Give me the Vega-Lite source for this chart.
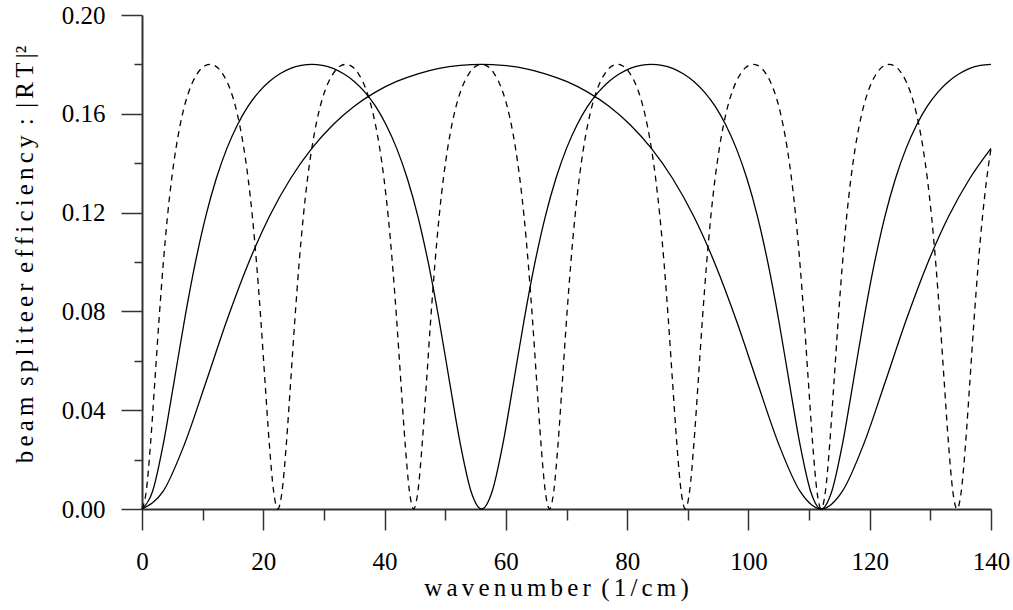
{
  "$schema": "https://vega.github.io/schema/vega-lite/v6.json",
  "width": 849,
  "height": 494,
  "autosize": "none",
  "padding": {"left": 142, "top": 15, "right": 22, "bottom": 101},
  "background": "white",
  "config": {
    "view": {"stroke": null},
    "axis": {
      "grid": false,
      "labelFont": "Liberation Serif",
      "labelFontSize": 25,
      "labelColor": "black",
      "titleFont": "Liberation Serif",
      "titleFontSize": 25,
      "titleFontWeight": "normal",
      "titleColor": "black",
      "domainColor": "#333",
      "domainWidth": 2,
      "tickColor": "#333",
      "tickWidth": 1.5,
      "labelFlush": false,
      "labelOverlap": false
    }
  },
  "datasets": {
    "wide": [
      {"x":0,"y":0},{"x":3.5,"y":0.0072},{"x":7,"y":0.0262},{"x":10.5,"y":0.051},{"x":14,"y":0.0764},{"x":17.5,"y":0.0992},{"x":21,"y":0.1184},{"x":24.5,"y":0.1338},{"x":28,"y":0.146},{"x":31.5,"y":0.1556},{"x":35,"y":0.1631},{"x":38.5,"y":0.1688},{"x":42,"y":0.1731},{"x":45.5,"y":0.1762},{"x":49,"y":0.1784},{"x":52.5,"y":0.1796},{"x":56,"y":0.18},{"x":59.5,"y":0.1796},{"x":63,"y":0.1784},{"x":66.5,"y":0.1762},{"x":70,"y":0.1731},{"x":73.5,"y":0.1688},{"x":77,"y":0.1631},{"x":80.5,"y":0.1556},{"x":84,"y":0.146},{"x":87.5,"y":0.1338},{"x":91,"y":0.1184},{"x":94.5,"y":0.0992},{"x":98,"y":0.0764},{"x":101.5,"y":0.051},{"x":105,"y":0.0262},{"x":108.5,"y":0.0072},
      {"x":112,"y":0},{"x":115.5,"y":0.0072},{"x":119,"y":0.0262},{"x":122.5,"y":0.051},{"x":126,"y":0.0764},{"x":129.5,"y":0.0992},{"x":133,"y":0.1184},{"x":136.5,"y":0.1338},{"x":140,"y":0.146}
    ],
    "mid": [
      {"x":0,"y":0},{"x":1.75,"y":0.0072},{"x":3.5,"y":0.0262},{"x":5.25,"y":0.051},{"x":7,"y":0.0764},{"x":8.75,"y":0.0992},{"x":10.5,"y":0.1184},{"x":12.25,"y":0.1338},{"x":14,"y":0.146},{"x":15.75,"y":0.1556},{"x":17.5,"y":0.1631},{"x":19.25,"y":0.1688},{"x":21,"y":0.1731},{"x":22.75,"y":0.1762},{"x":24.5,"y":0.1784},{"x":26.25,"y":0.1796},{"x":28,"y":0.18},{"x":29.75,"y":0.1796},{"x":31.5,"y":0.1784},{"x":33.25,"y":0.1762},{"x":35,"y":0.1731},{"x":36.75,"y":0.1688},{"x":38.5,"y":0.1631},{"x":40.25,"y":0.1556},{"x":42,"y":0.146},{"x":43.75,"y":0.1338},{"x":45.5,"y":0.1184},{"x":47.25,"y":0.0992},{"x":49,"y":0.0764},{"x":50.75,"y":0.051},{"x":52.5,"y":0.0262},{"x":54.25,"y":0.0072},
      {"x":56,"y":0},{"x":57.75,"y":0.0072},{"x":59.5,"y":0.0262},{"x":61.25,"y":0.051},{"x":63,"y":0.0764},{"x":64.75,"y":0.0992},{"x":66.5,"y":0.1184},{"x":68.25,"y":0.1338},{"x":70,"y":0.146},{"x":71.75,"y":0.1556},{"x":73.5,"y":0.1631},{"x":75.25,"y":0.1688},{"x":77,"y":0.1731},{"x":78.75,"y":0.1762},{"x":80.5,"y":0.1784},{"x":82.25,"y":0.1796},{"x":84,"y":0.18},{"x":85.75,"y":0.1796},{"x":87.5,"y":0.1784},{"x":89.25,"y":0.1762},{"x":91,"y":0.1731},{"x":92.75,"y":0.1688},{"x":94.5,"y":0.1631},{"x":96.25,"y":0.1556},{"x":98,"y":0.146},{"x":99.75,"y":0.1338},{"x":101.5,"y":0.1184},{"x":103.25,"y":0.0992},{"x":105,"y":0.0764},{"x":106.75,"y":0.051},{"x":108.5,"y":0.0262},{"x":110.25,"y":0.0072},
      {"x":112,"y":0},{"x":113.75,"y":0.0072},{"x":115.5,"y":0.0262},{"x":117.25,"y":0.051},{"x":119,"y":0.0764},{"x":120.75,"y":0.0992},{"x":122.5,"y":0.1184},{"x":124.25,"y":0.1338},{"x":126,"y":0.146},{"x":127.75,"y":0.1556},{"x":129.5,"y":0.1631},{"x":131.25,"y":0.1688},{"x":133,"y":0.1731},{"x":134.75,"y":0.1762},{"x":136.5,"y":0.1784},{"x":138.25,"y":0.1796},{"x":140,"y":0.18}
    ],
    "dash": [
      {"x":0,"y":0},{"x":0.7,"y":0.0072},{"x":1.4,"y":0.0262},{"x":2.1,"y":0.051},{"x":2.8,"y":0.0764},{"x":3.5,"y":0.0992},{"x":4.2,"y":0.1184},{"x":4.9,"y":0.1338},{"x":5.6,"y":0.146},{"x":6.3,"y":0.1556},{"x":7,"y":0.1631},{"x":7.7,"y":0.1688},{"x":8.4,"y":0.1731},{"x":9.1,"y":0.1762},{"x":9.8,"y":0.1784},{"x":10.5,"y":0.1796},{"x":11.2,"y":0.18},{"x":11.9,"y":0.1796},{"x":12.6,"y":0.1784},{"x":13.3,"y":0.1762},{"x":14,"y":0.1731},{"x":14.7,"y":0.1688},{"x":15.4,"y":0.1631},{"x":16.1,"y":0.1556},{"x":16.8,"y":0.146},{"x":17.5,"y":0.1338},{"x":18.2,"y":0.1184},{"x":18.9,"y":0.0992},{"x":19.6,"y":0.0764},{"x":20.3,"y":0.051},{"x":21,"y":0.0262},{"x":21.7,"y":0.0072},
      {"x":22.4,"y":0},{"x":23.1,"y":0.0072},{"x":23.8,"y":0.0262},{"x":24.5,"y":0.051},{"x":25.2,"y":0.0764},{"x":25.9,"y":0.0992},{"x":26.6,"y":0.1184},{"x":27.3,"y":0.1338},{"x":28,"y":0.146},{"x":28.7,"y":0.1556},{"x":29.4,"y":0.1631},{"x":30.1,"y":0.1688},{"x":30.8,"y":0.1731},{"x":31.5,"y":0.1762},{"x":32.2,"y":0.1784},{"x":32.9,"y":0.1796},{"x":33.6,"y":0.18},{"x":34.3,"y":0.1796},{"x":35,"y":0.1784},{"x":35.7,"y":0.1762},{"x":36.4,"y":0.1731},{"x":37.1,"y":0.1688},{"x":37.8,"y":0.1631},{"x":38.5,"y":0.1556},{"x":39.2,"y":0.146},{"x":39.9,"y":0.1338},{"x":40.6,"y":0.1184},{"x":41.3,"y":0.0992},{"x":42,"y":0.0764},{"x":42.7,"y":0.051},{"x":43.4,"y":0.0262},{"x":44.1,"y":0.0072},
      {"x":44.8,"y":0},{"x":45.5,"y":0.0072},{"x":46.2,"y":0.0262},{"x":46.9,"y":0.051},{"x":47.6,"y":0.0764},{"x":48.3,"y":0.0992},{"x":49,"y":0.1184},{"x":49.7,"y":0.1338},{"x":50.4,"y":0.146},{"x":51.1,"y":0.1556},{"x":51.8,"y":0.1631},{"x":52.5,"y":0.1688},{"x":53.2,"y":0.1731},{"x":53.9,"y":0.1762},{"x":54.6,"y":0.1784},{"x":55.3,"y":0.1796},{"x":56,"y":0.18},{"x":56.7,"y":0.1796},{"x":57.4,"y":0.1784},{"x":58.1,"y":0.1762},{"x":58.8,"y":0.1731},{"x":59.5,"y":0.1688},{"x":60.2,"y":0.1631},{"x":60.9,"y":0.1556},{"x":61.6,"y":0.146},{"x":62.3,"y":0.1338},{"x":63,"y":0.1184},{"x":63.7,"y":0.0992},{"x":64.4,"y":0.0764},{"x":65.1,"y":0.051},{"x":65.8,"y":0.0262},{"x":66.5,"y":0.0072},
      {"x":67.2,"y":0},{"x":67.9,"y":0.0072},{"x":68.6,"y":0.0262},{"x":69.3,"y":0.051},{"x":70,"y":0.0764},{"x":70.7,"y":0.0992},{"x":71.4,"y":0.1184},{"x":72.1,"y":0.1338},{"x":72.8,"y":0.146},{"x":73.5,"y":0.1556},{"x":74.2,"y":0.1631},{"x":74.9,"y":0.1688},{"x":75.6,"y":0.1731},{"x":76.3,"y":0.1762},{"x":77,"y":0.1784},{"x":77.7,"y":0.1796},{"x":78.4,"y":0.18},{"x":79.1,"y":0.1796},{"x":79.8,"y":0.1784},{"x":80.5,"y":0.1762},{"x":81.2,"y":0.1731},{"x":81.9,"y":0.1688},{"x":82.6,"y":0.1631},{"x":83.3,"y":0.1556},{"x":84,"y":0.146},{"x":84.7,"y":0.1338},{"x":85.4,"y":0.1184},{"x":86.1,"y":0.0992},{"x":86.8,"y":0.0764},{"x":87.5,"y":0.051},{"x":88.2,"y":0.0262},{"x":88.9,"y":0.0072},
      {"x":89.6,"y":0},{"x":90.3,"y":0.0072},{"x":91,"y":0.0262},{"x":91.7,"y":0.051},{"x":92.4,"y":0.0764},{"x":93.1,"y":0.0992},{"x":93.8,"y":0.1184},{"x":94.5,"y":0.1338},{"x":95.2,"y":0.146},{"x":95.9,"y":0.1556},{"x":96.6,"y":0.1631},{"x":97.3,"y":0.1688},{"x":98,"y":0.1731},{"x":98.7,"y":0.1762},{"x":99.4,"y":0.1784},{"x":100.1,"y":0.1796},{"x":100.8,"y":0.18},{"x":101.5,"y":0.1796},{"x":102.2,"y":0.1784},{"x":102.9,"y":0.1762},{"x":103.6,"y":0.1731},{"x":104.3,"y":0.1688},{"x":105,"y":0.1631},{"x":105.7,"y":0.1556},{"x":106.4,"y":0.146},{"x":107.1,"y":0.1338},{"x":107.8,"y":0.1184},{"x":108.5,"y":0.0992},{"x":109.2,"y":0.0764},{"x":109.9,"y":0.051},{"x":110.6,"y":0.0262},{"x":111.3,"y":0.0072},
      {"x":112,"y":0},{"x":112.7,"y":0.0072},{"x":113.4,"y":0.0262},{"x":114.1,"y":0.051},{"x":114.8,"y":0.0764},{"x":115.5,"y":0.0992},{"x":116.2,"y":0.1184},{"x":116.9,"y":0.1338},{"x":117.6,"y":0.146},{"x":118.3,"y":0.1556},{"x":119,"y":0.1631},{"x":119.7,"y":0.1688},{"x":120.4,"y":0.1731},{"x":121.1,"y":0.1762},{"x":121.8,"y":0.1784},{"x":122.5,"y":0.1796},{"x":123.2,"y":0.18},{"x":123.9,"y":0.1796},{"x":124.6,"y":0.1784},{"x":125.3,"y":0.1762},{"x":126,"y":0.1731},{"x":126.7,"y":0.1688},{"x":127.4,"y":0.1631},{"x":128.1,"y":0.1556},{"x":128.8,"y":0.146},{"x":129.5,"y":0.1338},{"x":130.2,"y":0.1184},{"x":130.9,"y":0.0992},{"x":131.6,"y":0.0764},{"x":132.3,"y":0.051},{"x":133,"y":0.0262},{"x":133.7,"y":0.0072},
      {"x":134.4,"y":0},{"x":135.1,"y":0.0072},{"x":135.8,"y":0.0262},{"x":136.5,"y":0.051},{"x":137.2,"y":0.0764},{"x":137.9,"y":0.0992},{"x":138.6,"y":0.1184},{"x":139.3,"y":0.1338},{"x":140,"y":0.146}
    ]
  },
  "encoding": {
    "x": {
      "field": "x",
      "type": "quantitative",
      "scale": {"domain": [0, 140], "nice": false, "zero": false},
      "axis": {
        "values": [0, 10, 20, 30, 40, 50, 60, 70, 80, 90, 100, 110, 120, 130, 140],
        "format": "d",
        "labelExpr": "datum.value % 20 === 0 ? datum.label : ''",
        "tickSize": {"condition": {"test": "datum.value % 20 === 0", "value": 21}, "value": 11},
        "labelPadding": 19,
        "title": "w\u2006a\u2006v\u2006e\u2006n\u2006u\u2006m\u2006b\u2006e\u2006r\u2006 (\u20061\u2006/\u2006c\u2006m\u2006)",
        "titleBaseline": "alphabetic",
        "titleAlign": "center",
        "titleX": 414,
        "titleY": 86
      }
    },
    "y": {
      "field": "y",
      "type": "quantitative",
      "scale": {"domain": [0, 0.2], "nice": false, "zero": false},
      "axis": {
        "values": [0, 0.02, 0.04, 0.06, 0.08, 0.1, 0.12, 0.14, 0.16, 0.18, 0.2],
        "labelExpr": "round(datum.value * 100) % 4 === 0 ? format(datum.value, '.2f') : ''",
        "tickSize": {"condition": {"test": "round(datum.value * 100) % 4 === 0", "value": 21}, "value": 8},
        "labelPadding": 16,
        "title": "b\u2006e\u2006a\u2006m\u2006 s\u2006p\u2006l\u2006i\u2006t\u2006e\u2006e\u2006r\u2006 e\u2006f\u2006f\u2006i\u2006c\u2006i\u2006e\u2006n\u2006c\u2006y\u2006 :\u2006 |\u2006R\u2006T\u2006|\u00b2",
        "titleBaseline": "alphabetic",
        "titleAlign": "center",
        "titleAngle": -90,
        "titleX": -110,
        "titleY": 239
      }
    }
  },
  "layer": [
    {"data": {"name": "wide"}, "mark": {"type": "line", "color": "black", "strokeWidth": 1.3, "interpolate": "monotone"}},
    {"data": {"name": "mid"}, "mark": {"type": "line", "color": "black", "strokeWidth": 1.3, "interpolate": "monotone"}},
    {"data": {"name": "dash"}, "mark": {"type": "line", "color": "black", "strokeWidth": 1.3, "strokeDash": [6, 5], "interpolate": "monotone"}}
  ]
}
